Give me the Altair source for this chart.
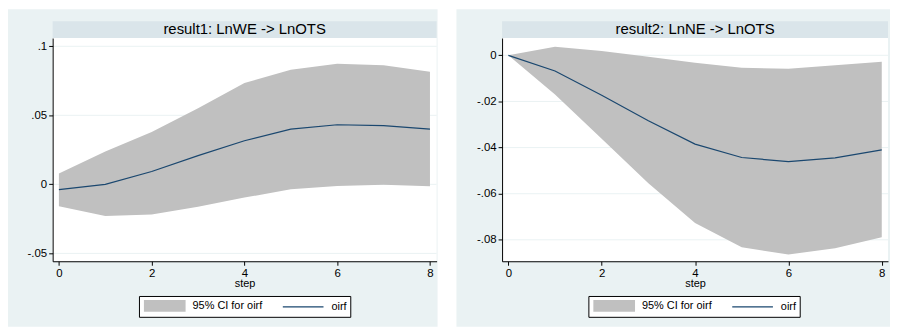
import altair as alt
import pandas as pd

# ---------------- data ----------------
steps = [0, 1, 2, 3, 4, 5, 6, 7, 8]

left_oirf = [-0.0038, 0.0000, 0.0093, 0.0208, 0.0316, 0.0400, 0.0432, 0.0425, 0.0400]
left_lower = [-0.0158, -0.0230, -0.0218, -0.0163, -0.0096, -0.0036, -0.0012, -0.0003, -0.0014]
left_upper = [0.0078, 0.0238, 0.0380, 0.0552, 0.0735, 0.0830, 0.0873, 0.0862, 0.0815]

right_oirf = [0.0000, -0.0068, -0.0173, -0.0284, -0.0385, -0.0443, -0.0461, -0.0445, -0.0410]
right_lower = [0.0000, -0.0170, -0.0362, -0.0555, -0.0727, -0.0832, -0.0864, -0.0837, -0.0789]
right_upper = [0.0000, 0.0037, 0.0019, -0.0006, -0.0032, -0.0054, -0.0058, -0.0043, -0.0028]

titles = ["result1: LnWE -> LnOTS", "result2: LnNE -> LnOTS"]
left_yticks = [-0.05, 0, 0.05, 0.1]
right_yticks = [-0.08, -0.06, -0.04, -0.02, 0]
x_ticks = [0, 2, 4, 6, 8]
x_title = "step"
ci_label = "95% CI for oirf"
line_label = "oirf"

# ---------------- style ----------------
FONT = "Liberation Sans"
BG = "#EAF2F3"
BAND = "#DAE5EA"
CI = "#C0C0C0"
NAVY = "#1A476F"
GRID = "#EAF2F3"
H = 225

LABEL_EXPR = ("datum.value == 0 ? '0' : "
              "replace(replace(format(datum.value, '.2~f'), '0.', '.'), '\u2212', '-')")


def panel(oirf, lower, upper, yticks, ydom, xdom, W, title, bg_left, bg_right):
    df = pd.DataFrame({"step": steps, "oirf": oirf, "lower": lower, "upper": upper,
                       "ci": ci_label, "series": line_label})
    one = pd.DataFrame({"t": [title]})
    grid_df = pd.DataFrame({"v": yticks})

    xs = alt.Scale(domain=xdom, nice=False, zero=False)
    ys = alt.Scale(domain=ydom, nice=False, zero=False)
    xax = alt.Axis(values=x_ticks, title=x_title, grid=False, zindex=1, tickSize=4,
                   labelPadding=2, labelFontSize=11.5, labelFont=FONT, labelColor="black",
                   domainColor="black", tickColor="black", labelFlush=False,
                   titleFont=FONT, titleFontSize=11, titleFontWeight="normal",
                   titleColor="black", titleY=25, titleBaseline="alphabetic")
    yax = alt.Axis(values=yticks, title=None, grid=False, zindex=1, tickSize=4,
                   labelPadding=2, labelFontSize=11.5, labelFont=FONT, labelColor="black",
                   domainColor="black", tickColor="black", labelExpr=LABEL_EXPR)

    bg = alt.Chart(one).mark_rect(color=BG).encode(
        x=alt.value(bg_left), x2=alt.value(W + bg_right),
        y=alt.value(-29), y2=alt.value(H + 66))
    plotbg = alt.Chart(one).mark_rect(color="white").encode(
        x=alt.value(0), x2=alt.value(W), y=alt.value(0), y2=alt.value(H))
    grid = alt.Chart(grid_df).mark_rule(color=GRID, strokeWidth=1).encode(
        y=alt.Y("v:Q", scale=ys, axis=yax))
    area = alt.Chart(df).mark_area(opacity=1).encode(
        x=alt.X("step:Q", scale=xs, axis=xax),
        y=alt.Y("lower:Q", scale=ys, axis=yax),
        y2="upper:Q",
        fill=alt.Fill("ci:N", scale=alt.Scale(domain=[ci_label], range=[CI]),
                      legend=alt.Legend(orient="none", legendX=92, legendY=249, title=None,
                                        symbolType="M-1,-0.2857H1V0.2857H-1Z",
                                        symbolSize=1764, symbolStrokeWidth=0,
                                        symbolOpacity=1,
                                        labelOffset=7, labelFontSize=11, labelFont=FONT,
                                        labelColor="black", padding=0)))
    line = alt.Chart(df).mark_line(strokeWidth=1.2).encode(
        x=alt.X("step:Q", scale=xs, axis=xax),
        y=alt.Y("oirf:Q", scale=ys, axis=yax),
        stroke=alt.Stroke("series:N", scale=alt.Scale(domain=[line_label], range=[NAVY]),
                          legend=alt.Legend(orient="none", legendX=231, legendY=249.5,
                                            title=None, symbolType="stroke",
                                            symbolSize=1681, symbolStrokeWidth=1.2,
                                            labelOffset=7, labelFontSize=11,
                                            labelFont=FONT, labelColor="black",
                                            padding=0)))
    band = alt.Chart(one).mark_rect(color=BAND).encode(
        x=alt.value(0), x2=alt.value(W), y=alt.value(-17), y2=alt.value(0))
    ttl = alt.Chart(one).mark_text(font=FONT, fontSize=15, color="black",
                                   align="center", baseline="alphabetic").encode(
        x=alt.value(W / 2), y=alt.value(-4), text="t:N")
    lbox = alt.Chart(one).mark_rect(fill="white", stroke="black", strokeWidth=1).encode(
        x=alt.value(87.5), x2=alt.value(300.5), y=alt.value(260.5), y2=alt.value(281.5))

    return alt.layer(bg, plotbg, grid, area, line, band, ttl, lbox).properties(
        width=W, height=H)


left = panel(left_oirf, left_lower, left_upper, left_yticks, [-0.0557, 0.106],
             [-0.135, 8.143], 387, titles[0], -45, 1)
right = panel(right_oirf, right_lower, right_upper, right_yticks, [-0.0893, 0.0075],
              [-0.134, 8.134], 389, titles[1], -46, 2)

chart = alt.hconcat(left, right, spacing=19).resolve_scale(
    x="independent", y="independent", fill="independent", stroke="independent"
).resolve_legend(fill="independent", stroke="independent").properties(
    padding=0
).configure_view(stroke=None)

chart.save("out.html", embed_options={"renderer": "svg", "actions": False})
